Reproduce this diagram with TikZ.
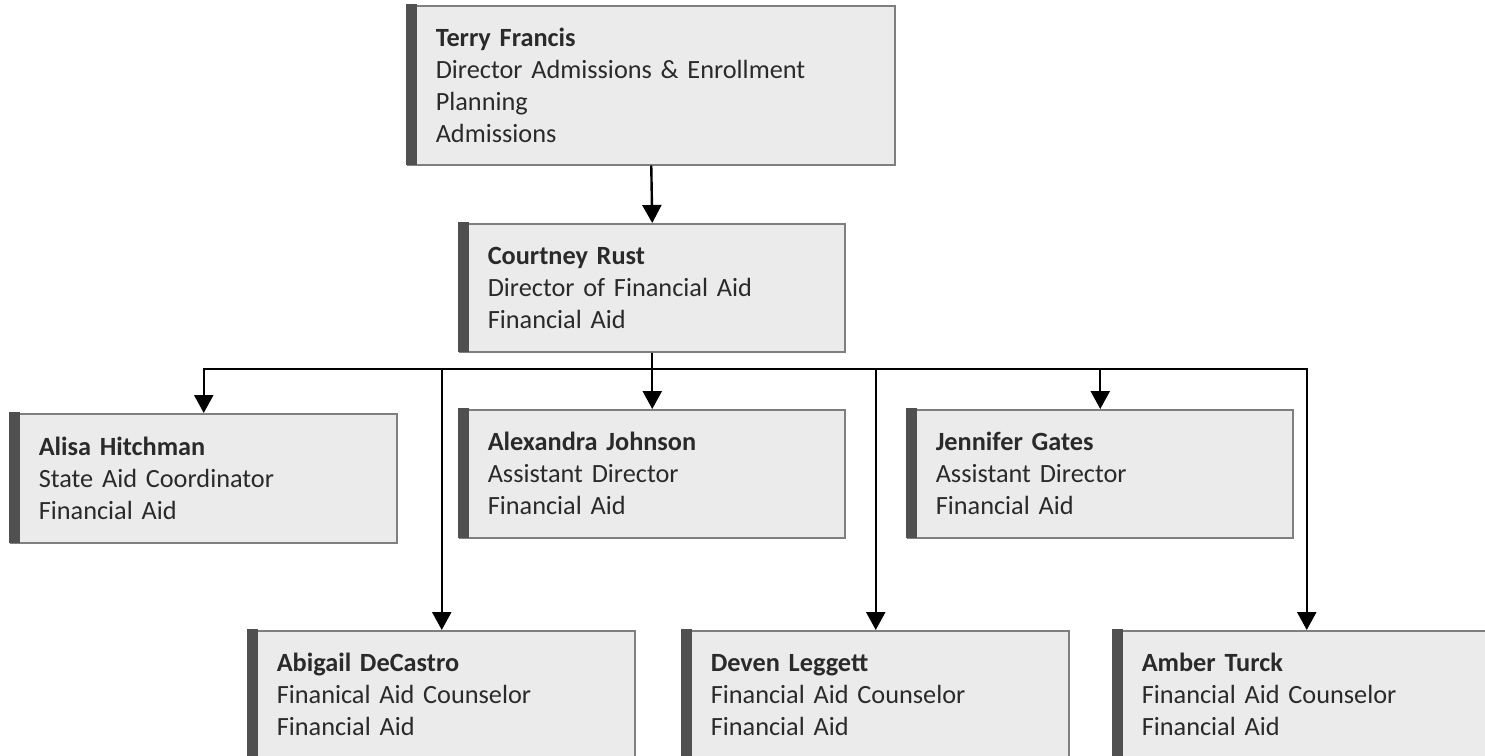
\documentclass[tikz,border=0pt]{standalone}
\usepackage{fontspec}
\setmainfont{Carlito}[WordSpace=0.85]
\usetikzlibrary{arrows.meta}
\definecolor{boxfill}{HTML}{EBEBEB}
\definecolor{boxline}{HTML}{7F7F7F}
\definecolor{barcol}{HTML}{505050}
\definecolor{txt}{HTML}{2A2A2A}
\begin{document}
\begin{tikzpicture}[x=1pt,y=-1pt,
  person/.style={draw=boxline, line width=1.5pt, fill=boxfill, anchor=north west,
    inner xsep=28pt, inner ysep=0pt, align=left, text width=329pt, minimum height=128pt,
    font=\fontsize{26.3}{32}\selectfont, text=txt},
  link/.style={line width=2.4pt, -{Triangle[length=18pt,width=19pt]}},
]
\useasboundingbox (0,0) rectangle (1485,755);
\clip (0,0) rectangle (1485,755);
\fill[white] (0,0) rectangle (1485,755);

\node[person, text width=431pt, minimum height=159pt] (terry) at (407,5)
  {\textbf{Terry Francis}\\Director Admissions \& Enrollment\\Planning\\Admissions};
\node[person] (courtney) at (459,223)
  {\textbf{Courtney Rust}\\Director of Financial Aid\\Financial Aid};
\node[person, text width=330pt, minimum height=129pt] (alisa) at (10,413)
  {\textbf{Alisa Hitchman}\\State Aid Coordinator\\Financial Aid};
\node[person] (alexandra) at (459,409)
  {\textbf{Alexandra Johnson}\\Assistant Director\\Financial Aid};
\node[person] (jennifer) at (907,409)
  {\textbf{Jennifer Gates}\\Assistant Director\\Financial Aid};
\node[person, text width=330pt] (abigail) at (248,630)
  {\textbf{Abigail DeCastro}\\Finanical Aid Counselor\\Financial Aid};
\node[person, text width=330pt] (deven) at (682,630)
  {\textbf{Deven Leggett}\\Financial Aid Counselor\\Financial Aid};
\node[person, text width=330pt] (amber) at (1113,630)
  {\textbf{Amber Turck}\\Financial Aid Counselor\\Financial Aid};

\foreach \n in {terry,courtney,alisa,alexandra,jennifer,abigail,deven,amber}
  \fill[barcol] ([shift={(-0.75,-0.75)}]\n.north west) rectangle ([xshift=10pt,yshift=0.75pt]\n.south west);

\coordinate (bus) at (651,369);
\draw[link] (terry.south) -- (courtney.north);
\foreach \n in {alisa,abigail,alexandra,deven,jennifer,amber}
  \draw[link] (courtney.south) -- (courtney.south |- bus) -| (\n.north);
\end{tikzpicture}
\end{document}
